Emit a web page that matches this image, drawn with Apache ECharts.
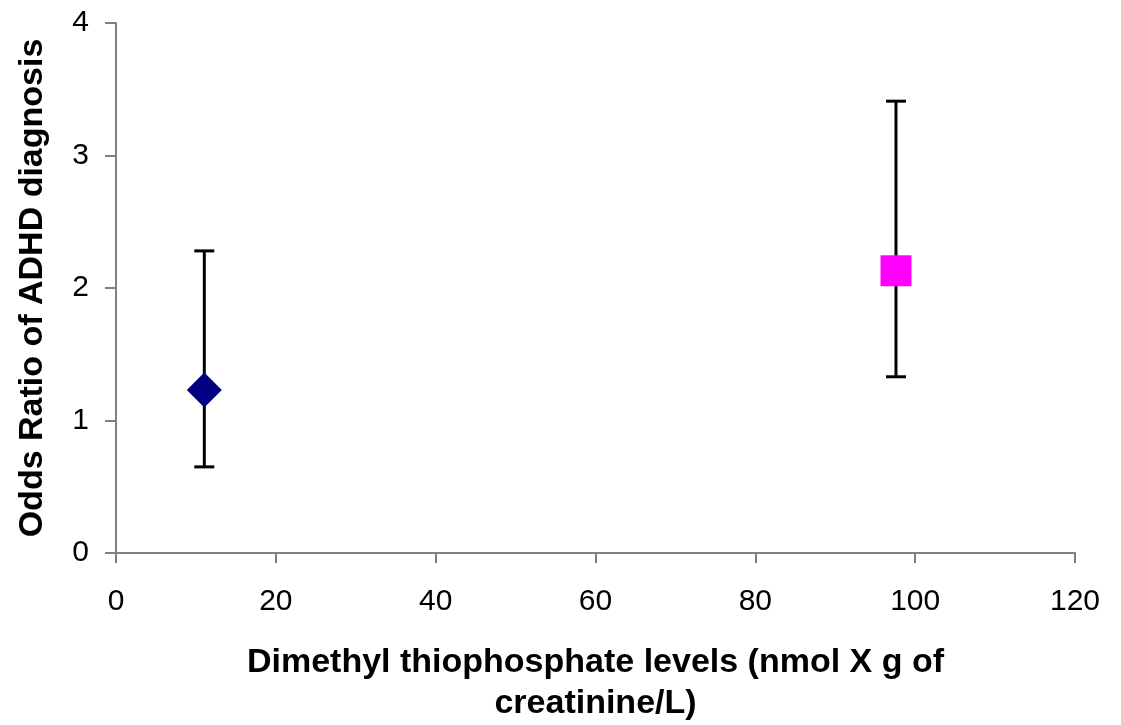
<!DOCTYPE html>
<html>
<head>
<meta charset="utf-8">
<script src="https://cdn.jsdelivr.net/npm/echarts@6/dist/echarts.min.js"></script>
<style>
  html, body { margin: 0; padding: 0; background: #fff; }
  #chart { width: 1121px; height: 725px; }
</style>
</head>
<body>
<div id="chart"></div>
<script>
// data
var levels = [11.05, 97.6];
var oddsRatio = [1.23, 2.13];
var ciLow = [0.65, 1.33];
var ciHigh = [2.28, 3.41];
var markerShapes = ['diamond', 'rect'];
var markerColors = ['#000080', '#FF00FF'];
var xTicks = [0, 20, 40, 60, 80, 100, 120];
var yTicks = [0, 1, 2, 3, 4];

var myChart = echarts.init(document.getElementById('chart'));

var errData = levels.map(function (x, i) { return [x, ciLow[i], ciHigh[i]]; });

var option = {
  animation: false,
  grid: { left: 116, right: 46, top: 23, bottom: 172, outerBoundsMode: 'none', containLabel: false },
  xAxis: {
    type: 'value',
    min: xTicks[0],
    max: xTicks[xTicks.length - 1],
    interval: 20,
    name: 'Dimethyl thiophosphate levels (nmol X g of\ncreatinine/L)',
    nameLocation: 'middle',
    nameGap: 89,
    nameTextStyle: {
      fontFamily: 'Liberation Sans',
      fontWeight: 'bold',
      fontSize: 34,
      color: '#000',
      lineHeight: 41
    },
    axisLine: { onZero: false, lineStyle: { color: '#808080', width: 2 } },
    axisTick: { show: true, length: 10, lineStyle: { color: '#808080', width: 2 } },
    axisLabel: { fontFamily: 'Liberation Sans', fontSize: 30, color: '#000', margin: 34 },
    splitLine: { show: false }
  },
  yAxis: {
    type: 'value',
    min: yTicks[0],
    max: yTicks[yTicks.length - 1],
    interval: 1,
    name: 'Odds Ratio of ADHD diagnosis',
    nameLocation: 'middle',
    nameGap: 66,
    nameTextStyle: {
      fontFamily: 'Liberation Sans',
      fontWeight: 'bold',
      fontSize: 34,
      color: '#000'
    },
    axisLine: { show: true, lineStyle: { color: '#808080', width: 2 } },
    axisTick: { show: true, length: 11, lineStyle: { color: '#808080', width: 2 } },
    axisLabel: { fontFamily: 'Liberation Sans', fontSize: 30, color: '#000', margin: 27 },
    splitLine: { show: false }
  },
  series: [
    {
      type: 'custom',
      z: 1,
      data: errData,
      renderItem: function (params, api) {
        var x = api.value(0);
        var lo = api.coord([x, api.value(1)]);
        var hi = api.coord([x, api.value(2)]);
        var cap = 10;
        var style = { stroke: '#000', lineWidth: 3 };
        return {
          type: 'group',
          children: [
            { type: 'line', shape: { x1: lo[0], y1: lo[1], x2: hi[0], y2: hi[1] }, style: style },
            { type: 'line', shape: { x1: hi[0] - cap, y1: hi[1], x2: hi[0] + cap, y2: hi[1] }, style: style },
            { type: 'line', shape: { x1: lo[0] - cap, y1: lo[1], x2: lo[0] + cap, y2: lo[1] }, style: style }
          ]
        };
      }
    },
    {
      type: 'scatter',
      z: 3,
      data: levels.map(function (x, i) {
        return {
          value: [x, oddsRatio[i]],
          symbol: markerShapes[i],
          symbolSize: i === 0 ? 35 : 31,
          itemStyle: { color: markerColors[i], opacity: 1 }
        };
      })
    }
  ]
};

myChart.setOption(option);
</script>
</body>
</html>
